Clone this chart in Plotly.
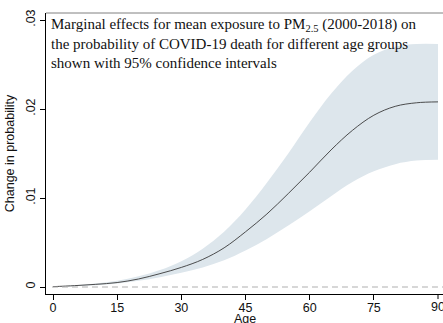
import plotly.graph_objects as go

ages = [0, 5, 10, 15, 20, 25, 30, 35, 40, 45, 50, 55, 60, 65, 70, 75, 80, 85, 90]
mean_effect = [0.00004, 0.00015, 0.0003, 0.0005, 0.0009, 0.0015, 0.0022, 0.0031, 0.0044, 0.0062,
               0.0082, 0.0105, 0.0129, 0.0154, 0.0176, 0.0193, 0.0203, 0.0207, 0.0208]
upper_ci = [0.00005, 0.0002, 0.0004, 0.0007, 0.0012, 0.0019, 0.0029, 0.0043, 0.0062, 0.0087,
            0.0117, 0.0150, 0.0185, 0.0217, 0.0243, 0.0261, 0.0270, 0.0273, 0.0273]
lower_ci = [0.00003, 0.0001, 0.0002, 0.0004, 0.0007, 0.0011, 0.0016, 0.0022, 0.0030, 0.0041,
            0.0054, 0.0069, 0.0085, 0.0102, 0.0118, 0.0130, 0.0138, 0.0142, 0.0143]

x_ticks = [0, 15, 30, 45, 60, 75, 90]
y_ticks = [0, 0.01, 0.02, 0.03]
y_ticklabels = ["0", ".01", ".02", ".03"]

fig = go.Figure()
fig.add_trace(go.Scatter(x=ages, y=upper_ci, mode="lines", line=dict(width=0, shape="spline"),
                         hoverinfo="skip", showlegend=False))
fig.add_trace(go.Scatter(x=ages, y=lower_ci, mode="lines", line=dict(width=0, shape="spline"),
                         fill="tonexty", fillcolor="#dde6ec", hoverinfo="skip", showlegend=False))
fig.add_trace(go.Scatter(x=ages, y=mean_effect, mode="lines",
                         line=dict(color="#3a3a3a", width=0.9, shape="spline"), showlegend=False))

fig.add_shape(type="line", xref="paper", yref="y", x0=0.015, x1=1, y0=0, y1=0,
              line=dict(color="#b0b0b0", width=1.2, dash="6px,4px"))
fig.add_shape(type="line", xref="paper", yref="paper", x0=0, x1=1, y0=1, y1=1,
              line=dict(color="#808080", width=1))

fig.add_annotation(
    xref="paper", yref="paper", x=0.008, y=0.995, xanchor="left", yanchor="top",
    align="left", showarrow=False,
    text="Marginal effects for mean exposure to PM<sub>2.5</sub> (2000-2018) on<br>"
         "the probability of COVID-19 death for different age groups<br>"
         "shown with 95% confidence intervals",
    font=dict(family="Liberation Serif", size=15, color="#111"),
)

# last tick label, partly cut by the right edge as in the reference
fig.add_annotation(xref="x", yref="paper", x=x_ticks[-1], y=0, yshift=-4,
                   xanchor="center", yanchor="top", showarrow=False,
                   text=str(x_ticks[-1]), font=dict(family="Liberation Sans", size=12.5, color="#111"))
# x-axis title
fig.add_annotation(xref="paper", yref="paper", x=0.5, y=0, yshift=-16,
                   xanchor="center", yanchor="top", showarrow=False,
                   text="Age", font=dict(family="Liberation Sans", size=12.5, color="#111"))

fig.update_layout(
    width=443, height=323,
    margin=dict(l=46, r=0, t=13, b=29),
    paper_bgcolor="white", plot_bgcolor="white",
    font=dict(family="Liberation Sans", size=12.5, color="#111"),
    xaxis=dict(range=[-1.636, 91.17], tickvals=x_ticks[:-1], ticks="outside", ticklen=5,
               tickcolor="black", showline=True, linecolor="black", linewidth=1.2,
               showgrid=False, zeroline=False, automargin=False, ticklabelstandoff=-3,
               tickfont=dict(size=12.5)),
    yaxis=dict(range=[-0.000787, 0.030787], tickvals=y_ticks, ticktext=y_ticklabels,
               tickangle=-90, ticks="outside", ticklen=5, tickcolor="black",
               showline=True, linecolor="black", linewidth=1.2,
               showgrid=False, zeroline=False, automargin=False,
               title=dict(text="Change in probability", standoff=6, font=dict(size=12.5)),
               tickfont=dict(size=12.5)),
)
fig.add_shape(type="line", xref="x", yref="paper", x0=x_ticks[-1], x1=x_ticks[-1],
              y0=0, y1=-0.018, line=dict(color="black", width=1))

fig.write_html("out.html")
